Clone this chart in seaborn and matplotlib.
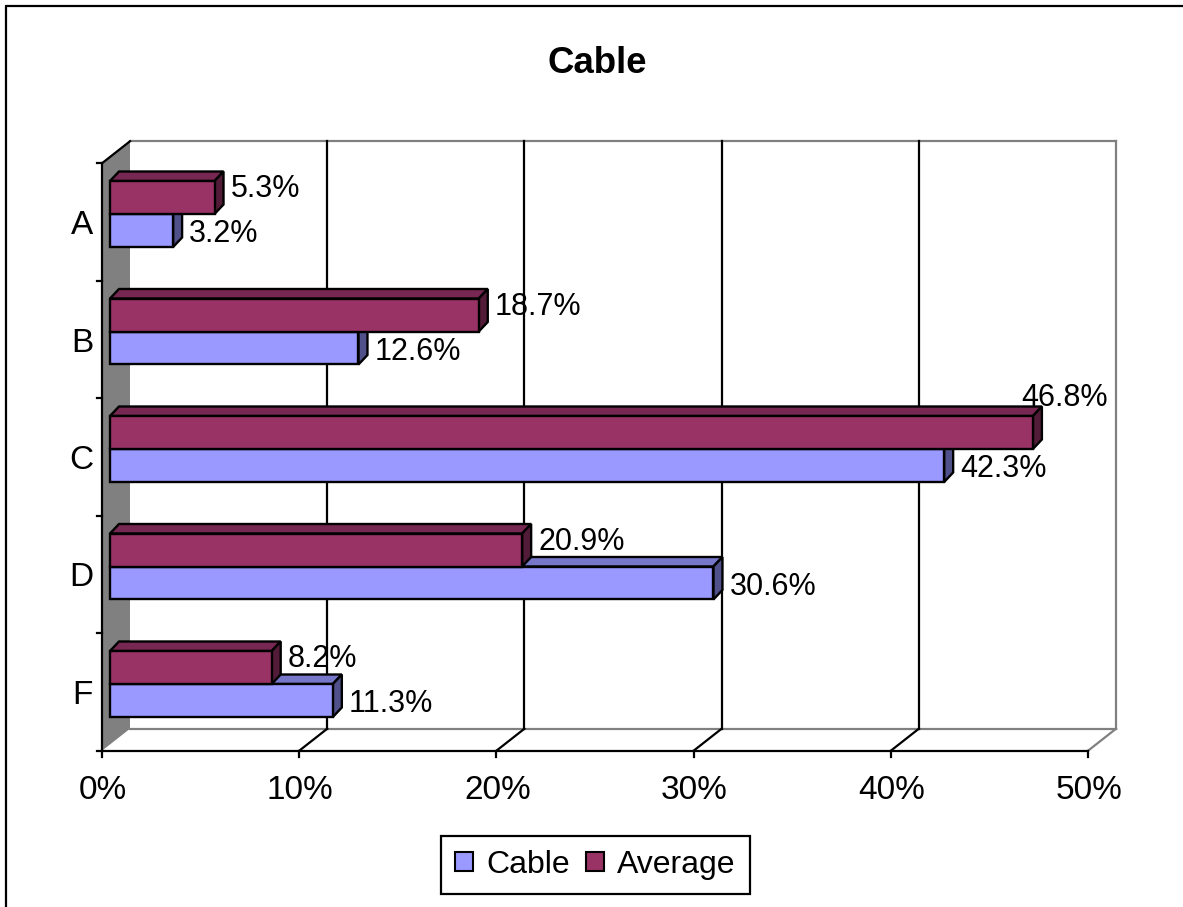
import matplotlib
matplotlib.use("Agg")
import matplotlib.pyplot as plt
import matplotlib.colors as mcolors
from matplotlib.patches import Polygon, Patch
from matplotlib.lines import Line2D
import pandas as pd
import seaborn as sns

# ---- data ----
categories = ["A", "B", "C", "D", "F"]
cable = [3.2, 12.6, 42.3, 30.6, 11.3]
average = [5.3, 18.7, 46.8, 20.9, 8.2]
series_names = ["Cable", "Average"]
x_ticks = [0, 10, 20, 30, 40, 50]
x_tick_labels = ["0%", "10%", "20%", "30%", "40%", "50%"]
title = "Cable"

# ---- styling ----
front_colors = {"Cable": "#9999FF", "Average": "#993366"}
top_colors = {"Cable": "#7777CA", "Average": "#772852"}
side_colors = {"Cable": "#50508A", "Average": "#521C38"}
wall_gray = "#808080"

W, H = 1183, 907
sns.set_theme(style="white")
plt.rcParams["font.family"] = ["Liberation Sans", "DejaVu Sans"]

fig = plt.figure(figsize=(W / 100, H / 100), dpi=100)
fig.patch.set_facecolor("white")
ax = fig.add_axes([0, 0, 1, 1])

df = pd.DataFrame({
    "category": categories * 2,
    "series": ["Cable"] * len(categories) + ["Average"] * len(categories),
    "value": cable + average,
})

bar_w = 0.5617
sns.barplot(data=df, x="value", y="category", hue="series", order=categories,
            hue_order=["Average", "Cable"], palette=front_colors, width=bar_w,
            saturation=1, errorbar=None, edgecolor="black", linewidth=1.7,
            legend=False, orient="h", ax=ax)

# plotting scale of the bar plane: pixels per percent / per category
PX_X, PX_Y = 19.72, 117.5
X0_PX, Y0_PX = 110, 214
ax.set_xlim(-X0_PX / PX_X, (W - X0_PX) / PX_X)
ax.set_ylim((H - Y0_PX) / PX_Y, -Y0_PX / PX_Y)
ax.axis("off")


def D(v, k, dxp=0.0, dyp=0.0):
    """Data point shifted by a pixel offset (dyp positive = downwards)."""
    x, y = ax.transData.transform((v, k))
    return tuple(ax.transData.inverted().transform((x + dxp, y - dyp)))


FRONT = (-8, 8)     # front plane (axes) relative to bar plane
BACK = (20, -14)    # back wall relative to bar plane
DEPTH = (9, -9.5)   # bar depth
k_top, k_bot = -0.5, len(categories) - 0.5
xmax = x_ticks[-1]
LW = 1.6


def line(p, q, color="black", lw=LW, z=2):
    ax.add_line(Line2D([p[0], q[0]], [p[1], q[1]], color=color, lw=lw,
                       zorder=z, solid_capstyle="projecting"))


# side wall
ax.add_patch(Polygon([D(0, k_top, *FRONT), D(0, k_bot, *FRONT),
                      D(0, k_bot, *BACK), D(0, k_top, *BACK)],
                     closed=True, facecolor=wall_gray, edgecolor="none", zorder=1))
# back wall border
line(D(0, k_top, *BACK), D(xmax, k_top, *BACK), color=wall_gray)
line(D(xmax, k_top, *BACK), D(xmax, k_bot, *BACK), color=wall_gray)
line(D(0, k_bot, *BACK), D(xmax, k_bot, *BACK), color=wall_gray)
line(D(xmax, k_bot, *BACK), D(xmax, k_bot, *FRONT), color=wall_gray)
# gridlines on back wall and floor
for v in x_ticks[1:-1]:
    line(D(v, k_top, *BACK), D(v, k_bot, *BACK))
    line(D(v, k_bot, *BACK), D(v, k_bot, *FRONT))
# axes
line(D(0, k_bot, *FRONT), D(xmax, k_bot, *FRONT), z=3)
line(D(0, k_top, *FRONT), D(0, k_bot, *FRONT), z=3)
line(D(0, k_top, *FRONT), D(0, k_top, *BACK), z=3)
for i in range(len(categories) + 1):
    b = k_top + i
    line(D(0, b, FRONT[0] - 5, FRONT[1]), D(0, b, *FRONT), z=3)
for v, lab in zip(x_ticks, x_tick_labels):
    line(D(v, k_bot, *FRONT), D(v, k_bot, FRONT[0], FRONT[1] + 6), z=3)
    ax.text(*D(v, k_bot, FRONT[0] + 1, FRONT[1] + 48), lab, ha="center",
            va="baseline", fontsize=24, color="black")
for k, cat in enumerate(categories):
    ax.text(*D(0, k, FRONT[0] - 9, FRONT[1] + 12), cat, ha="right",
            va="baseline", fontsize=24, color="black")

# 3D faces for bars
rgba = {s: mcolors.to_rgba(c) for s, c in front_colors.items()}
zbase = {"Cable": 4, "Average": 6}
bars = {"Cable": [], "Average": []}
for p in list(ax.patches):
    if not hasattr(p, "get_width") or p.get_width() <= 0:
        continue
    fc = p.get_facecolor()
    s = min(rgba, key=lambda n: sum((a - b) ** 2 for a, b in zip(fc[:3], rgba[n][:3])))
    bars[s].append(p)
    p.set_zorder(zbase[s] + 1)
    x0, w = p.get_x(), p.get_width()
    yt, yb = p.get_y(), p.get_y() + p.get_height()
    x1 = x0 + w
    ax.add_patch(Polygon([D(x0, yt), D(x1, yt), D(x1, yt, *DEPTH), D(x0, yt, *DEPTH)],
                         closed=True, facecolor=top_colors[s], edgecolor="black",
                         lw=1.7, joinstyle="miter", zorder=zbase[s]))
    ax.add_patch(Polygon([D(x1, yt), D(x1, yb), D(x1, yb, *DEPTH), D(x1, yt, *DEPTH)],
                         closed=True, facecolor=side_colors[s], edgecolor="black",
                         lw=1.7, joinstyle="miter", zorder=zbase[s]))

# value labels
label_fs = 22
cap_px = 0.716 * label_fs / 72 * 100
fig.canvas.draw()
renderer = fig.canvas.get_renderer()
wall_right_px = ax.transData.transform(D(xmax, 0, *BACK))[0]
label_dy = {"Average": -11, "Cable": 1}
for s in series_names:
    for p in sorted(bars[s], key=lambda r: r.get_y()):
        val = p.get_width()
        yc = p.get_y() + p.get_height() / 2
        t = ax.text(*D(val, yc, 16, label_dy[s] + cap_px / 2), f"{val:.1f}%",
                    ha="left", va="baseline", fontsize=label_fs, color="black",
                    zorder=10)
        bb = t.get_window_extent(renderer)
        if bb.x1 > wall_right_px - 6:
            t.set_ha("right")
            xr = ax.transData.inverted().transform((wall_right_px - 8, 0))[0]
            t.set_position(D(xr, p.get_y(), 0, -10))

# title
fig.text(597 / W, 1 - 72.7 / H, title, ha="center", va="baseline",
         fontsize=26.4, fontweight="bold", color="black")

# legend
handles = [Patch(facecolor=front_colors[s], edgecolor="black", linewidth=1.5)
           for s in series_names]
leg = fig.legend(handles, series_names, loc="center", ncol=2,
                 bbox_to_anchor=(595.5 / W, 1 - 865 / H), fontsize=23,
                 frameon=True, fancybox=False, framealpha=1, edgecolor="black",
                 handlelength=0.56, handleheight=0.56, handletextpad=0.42,
                 columnspacing=0.5, borderpad=0.45)
leg.get_frame().set_linewidth(1.6)
for txt in leg.get_texts():
    txt.set_color("black")

# chart border
fig.add_artist(Line2D([6 / W, 1.01], [1 - 6 / H, 1 - 6 / H], transform=fig.transFigure,
                      color="black", lw=1.6))
fig.add_artist(Line2D([6 / W, 6 / W], [1 - 6 / H, -0.01], transform=fig.transFigure,
                      color="black", lw=1.6))

fig.savefig("out.png", dpi=100, facecolor="white")
